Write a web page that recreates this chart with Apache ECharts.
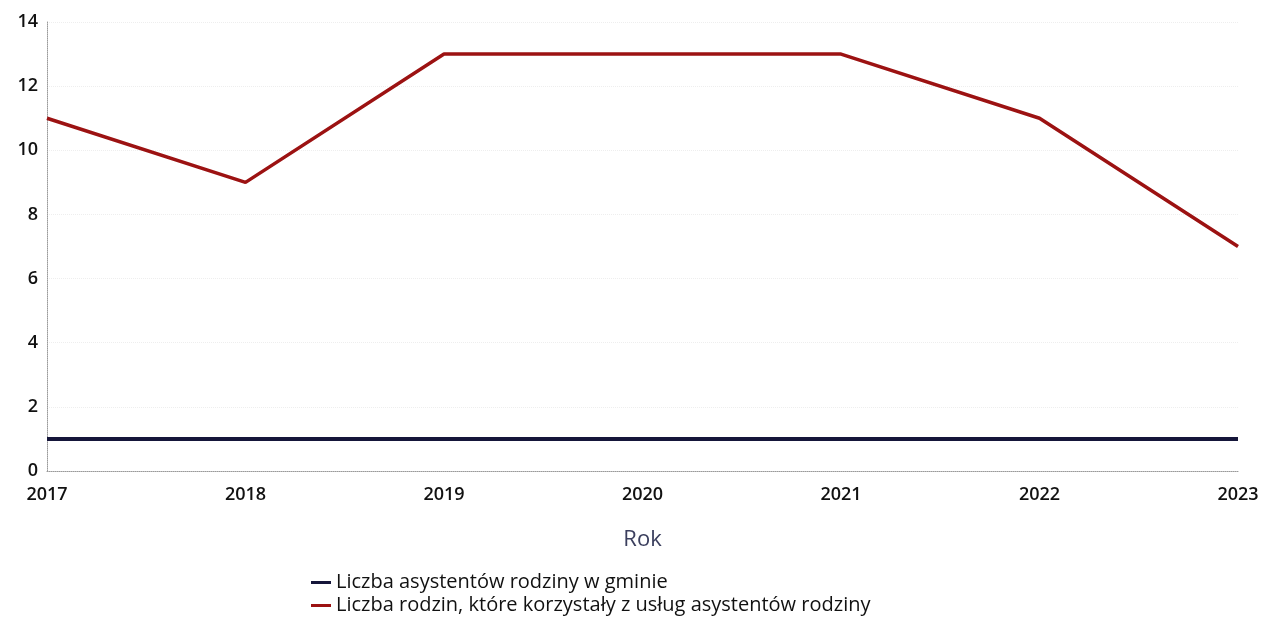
<!DOCTYPE html>
<html><head><meta charset="utf-8">
<script src="https://cdn.jsdelivr.net/npm/echarts@6/dist/echarts.min.js"></script>
<style>html,body{margin:0;padding:0;background:#fff}#c{width:1263px;height:619px}</style>
</head><body><div id="c"></div>
<script>
const years = ['2017','2018','2019','2020','2021','2022','2023'];
const asystenci = [1,1,1,1,1,1,1];
const rodziny = [11,9,13,13,13,11,7];
const yTicks = [0,2,4,6,8,10,12,14];
const seriesNames = ['Liczba asystentów rodziny w gminie','Liczba rodzin, które korzystały z usług asystentów rodziny'];

const chart = echarts.init(document.getElementById('c'));
const font = '"Open Sans", "Noto Sans", sans-serif';
chart.setOption({
  animation:false,
  textStyle:{fontFamily:font},
  grid:{left:47,right:25,top:22,bottom:148,containLabel:false},
  xAxis:{type:'category',data:years,boundaryGap:false,
    name:'Rok',nameLocation:'middle',nameGap:58,
    nameTextStyle:{color:'#3b3f5e',fontSize:22,fontFamily:font},
    axisLine:{lineStyle:{color:'#9a9a9a',width:1,type:'dotted'}},
    axisTick:{show:false},
    axisLabel:{color:'#111',fontSize:18,fontWeight:600,fontFamily:font,margin:15,
      alignMinLabel:'center', alignMaxLabel:'center'}},
  yAxis:{type:'value',min:yTicks[0],max:yTicks[yTicks.length-1],interval:2,
    axisLine:{show:true,lineStyle:{color:'#9a9a9a',width:1,type:'dotted'}},
    axisTick:{show:false},
    splitLine:{show:true,lineStyle:{color:'#eeeeee',width:1,type:'dotted'}},
    axisLabel:{color:'#111',fontSize:18,fontWeight:600,fontFamily:font,margin:9}},
  legend:{orient:'vertical',left:311,top:571,padding:0,itemGap:0,itemWidth:20,itemHeight:3,
    icon:'rect',textStyle:{color:'#111',fontSize:20,fontWeight:500,lineHeight:23,fontFamily:font},
    data:seriesNames},
  series:[
    {name:seriesNames[0],type:'line',data:asystenci,showSymbol:false,
      lineStyle:{color:'#15163a',width:4},itemStyle:{color:'#15163a'}},
    {name:seriesNames[1],type:'line',data:rodziny,showSymbol:false,
      lineStyle:{color:'#9c1212',width:3.5},itemStyle:{color:'#9c1212'}}
  ]
});
</script></body></html>
